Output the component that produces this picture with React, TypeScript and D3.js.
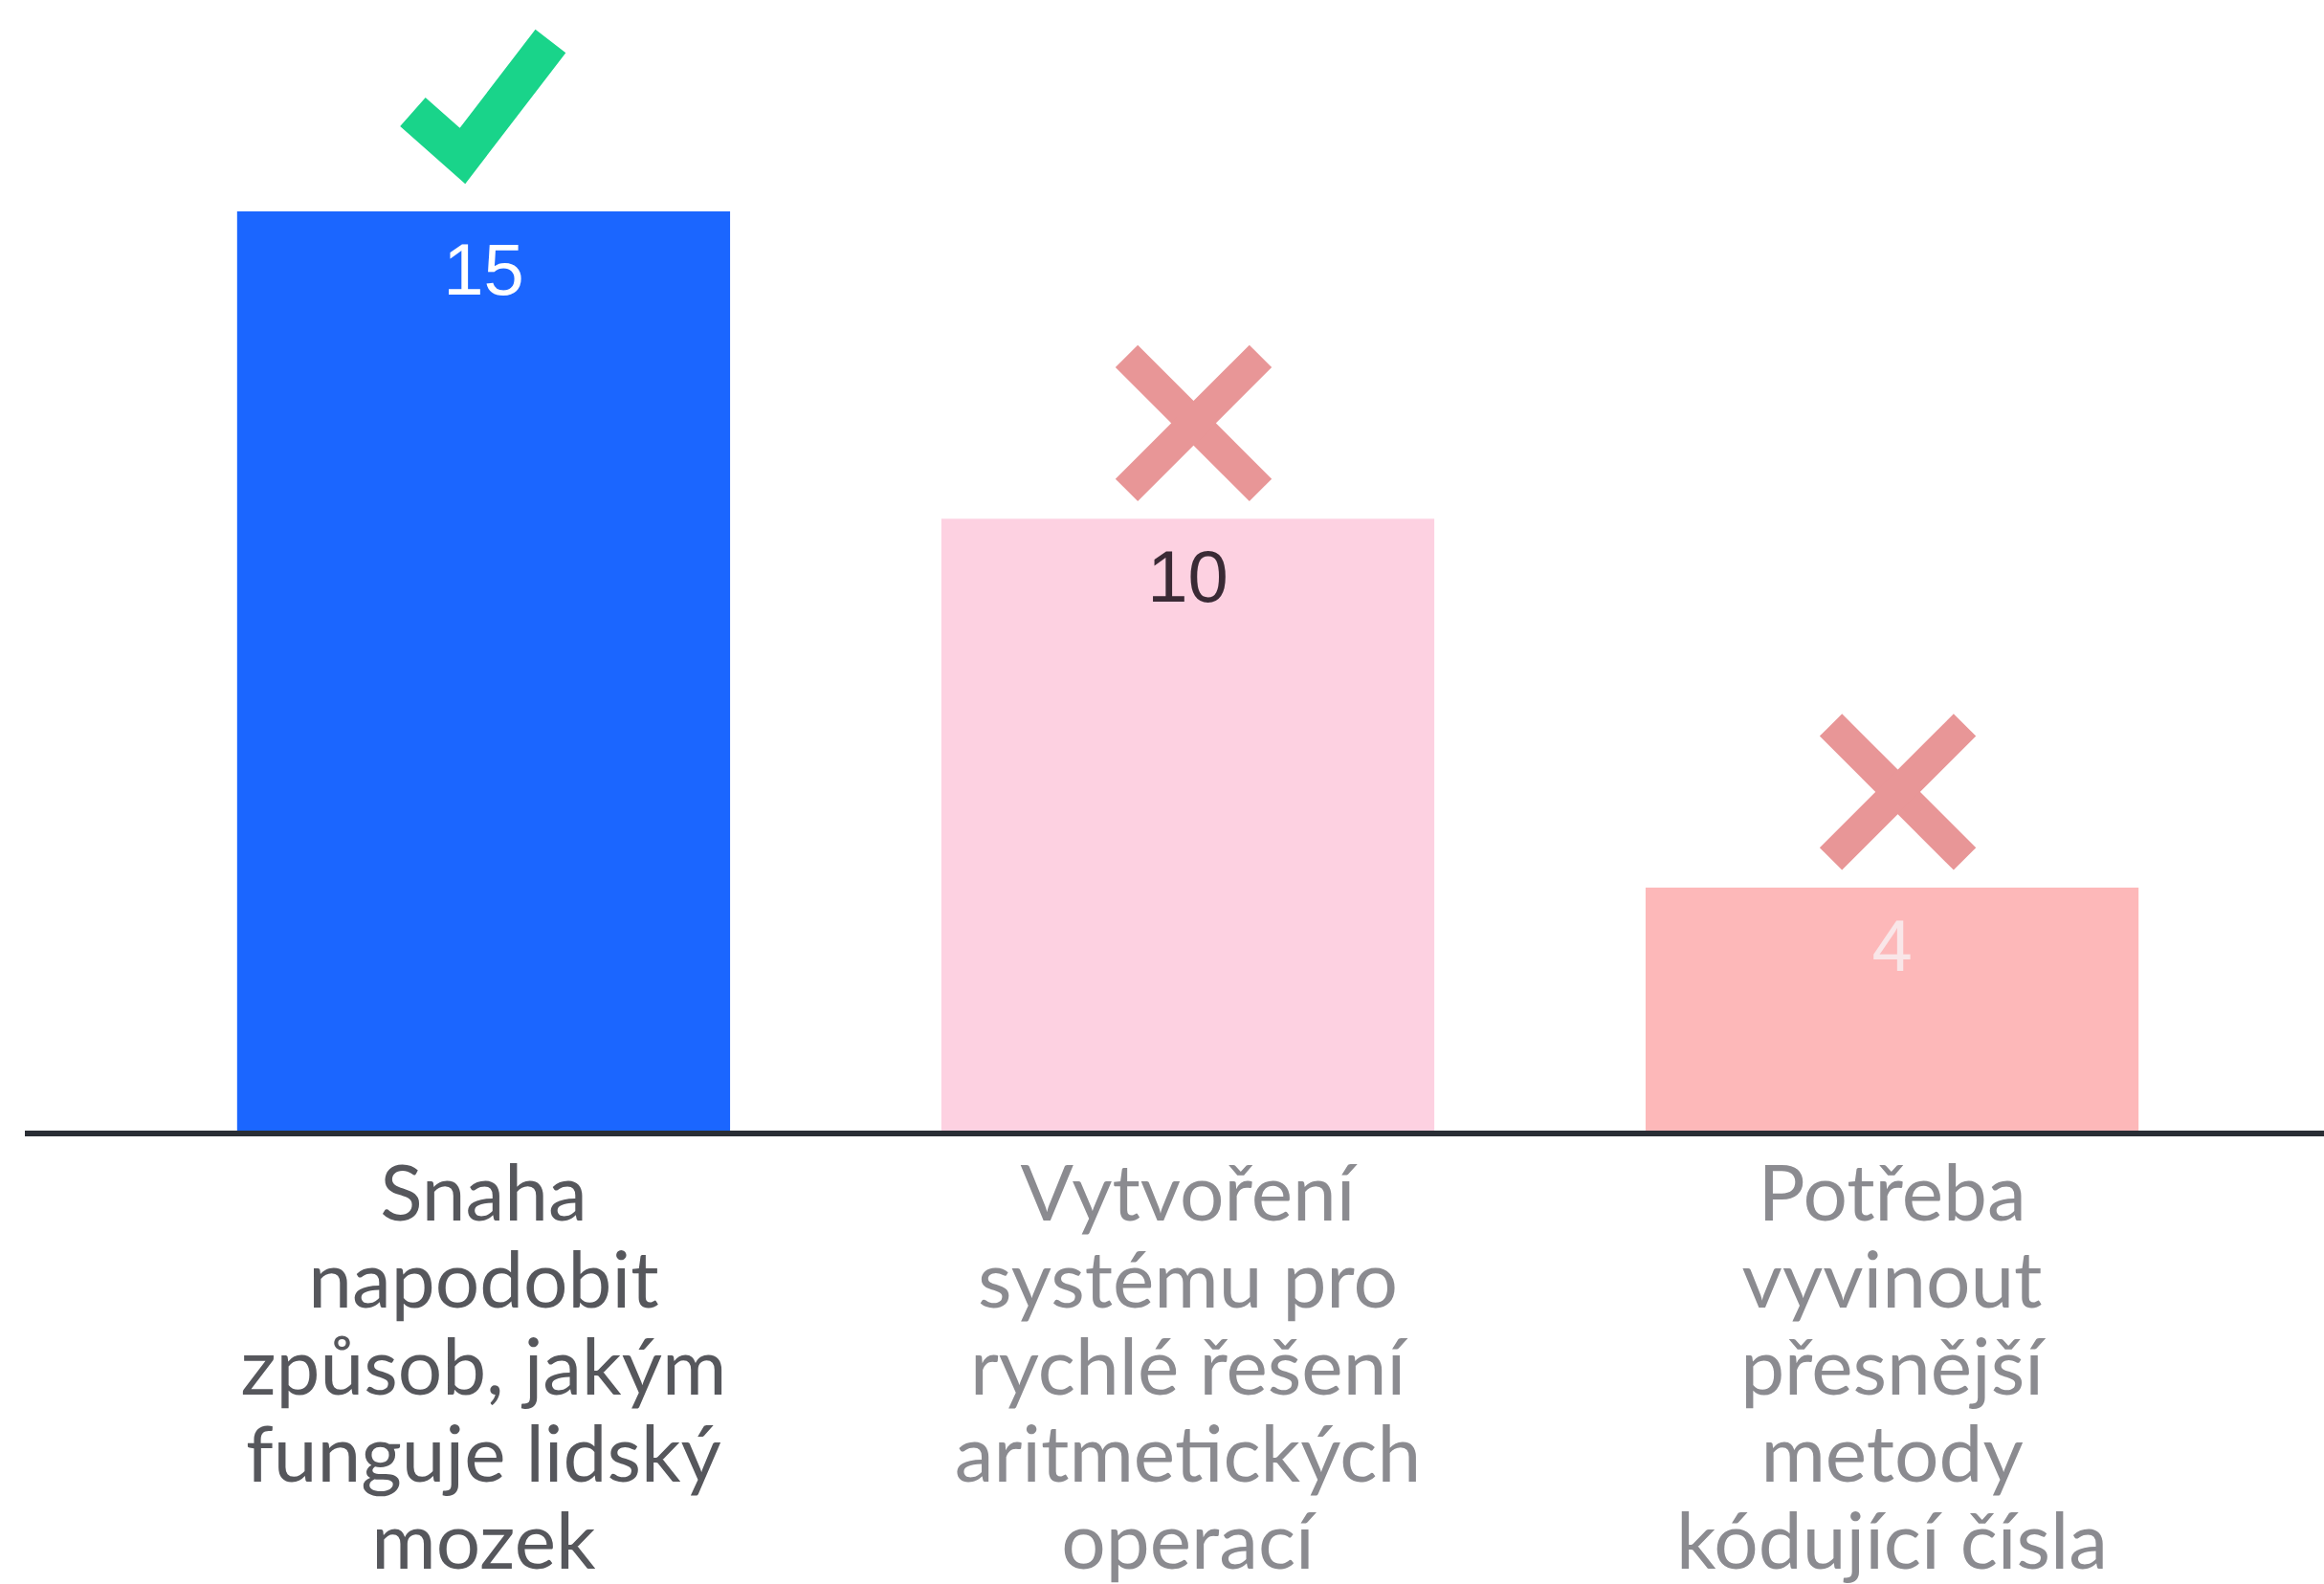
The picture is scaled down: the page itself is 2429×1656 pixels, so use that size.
import React from "react";
import * as d3 from "d3";

const categories = ["a", "b", "c"];
const values = [15, 10, 4];
const labelLines = [
  ["Snaha", "napodobit", "způsob, jakým", "funguje lidský", "mozek"],
  ["Vytvoření", "systému pro", "rychlé řešení", "aritmetických", "operací"],
  ["Potřeba", "vyvinout", "přesnější", "metody", "kódující čísla"],
];
const marks = ["check", "cross", "cross"];

const barColors = ["#1b66ff", "#fdd1e1", "#fdb8b9"];
const valueColors = ["#ffffff", "#3a2a35", "#f9e6e8"];
const labelColors = ["#56575c", "#8b8b90", "#8b8b90"];

export default function App() {
  const width = 2429;
  const height = 1656;
  const baseY = 1185;

  const x = d3
    .scaleBand<string>()
    .domain(categories)
    .range([27, 2456])
    .paddingInner(0.3)
    .paddingOuter(0.3);

  const y = d3.scaleLinear().domain([0, 15]).range([baseY, 221]);

  const checkLine = d3.line();

  return (
    <div style={{ position: "absolute", left: 0, top: 0 }}>
      <svg width={width} height={height} style={{ display: "block", background: "#fff" }}>
        {categories.map((c, i) => {
          const x0 = x(c) as number;
          const bw = x.bandwidth();
          const cx = x0 + bw / 2;
          const top = y(values[i]);
          return (
            <g key={c}>
              <rect x={x0} y={top} width={bw} height={baseY - top} fill={barColors[i]} />
              <text
                x={cx}
                y={top + 87}
                textAnchor="middle"
                fontFamily="Liberation Sans, Arial, sans-serif"
                fontSize={76}
                fill={valueColors[i]}
              >
                {values[i]}
              </text>
              {marks[i] === "check" ? (
                <path
                  d={checkLine([
                    [cx - 74, top - 104],
                    [cx - 22, top - 58],
                    [cx + 70, top - 178],
                  ]) as string}
                  fill="none"
                  stroke="#19d48a"
                  strokeWidth={40}
                  strokeLinejoin="miter"
                />
              ) : (
                <g stroke="#e89697" strokeWidth={33}>
                  <line x1={cx - 64} y1={top - 170} x2={cx + 76} y2={top - 30} />
                  <line x1={cx - 64} y1={top - 30} x2={cx + 76} y2={top - 170} />
                </g>
              )}
              <text
                textAnchor="middle"
                fontFamily="Lato, sans-serif"
                fontSize={82}
                fill={labelColors[i]}
              >
                {labelLines[i].map((ln, j) => (
                  <tspan key={j} x={cx} y={1276 + j * 91}>
                    {ln}
                  </tspan>
                ))}
              </text>
            </g>
          );
        })}
        <line x1={26} x2={width} y1={baseY} y2={baseY} stroke="#2a2e35" strokeWidth={6} />
      </svg>
    </div>
  );
}
